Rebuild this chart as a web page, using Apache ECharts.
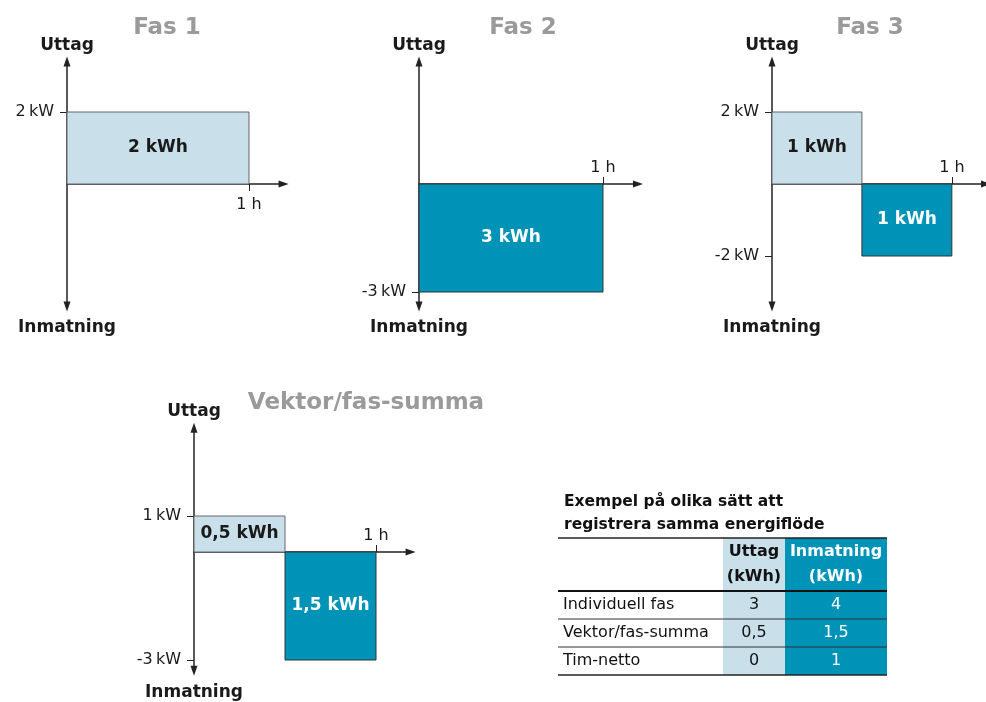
<!DOCTYPE html>
<html>
<head>
<meta charset="utf-8">
<title>Fas och vektorsumma</title>
<script src="https://cdn.jsdelivr.net/npm/echarts@6/dist/echarts.min.js"></script>
<style>
  html, body { margin: 0; padding: 0; background: #fff; }
  #chart { width: 986px; height: 702px; }
</style>
</head>
<body>
<div id="chart"></div>
<script>
// panels: three phases + vector sum
const panelTitles = ['Fas 1', 'Fas 2', 'Fas 3', 'Vektor/fas-summa']
// blocks per panel: start hour, end hour, power (kW), energy label
const blockStart = [[0], [0], [0, 0.5], [0, 0.5]]
const blockEnd = [[1], [1], [0.5, 1], [0.5, 1]]
const blockPower = [[2], [-3], [2, -2], [1, -3]]
const blockEnergy = [['2 kWh'], ['3 kWh'], ['1 kWh', '1 kWh'], ['0,5 kWh', '1,5 kWh']]
const powerTicks = [[2], [-3], [2, -2], [1, -3]]
const hourTicks = [1]

// table
const tableTitle = ['Exempel på olika sätt att', 'registrera samma energiflöde']
const tableHeaders = [['Uttag', '(kWh)'], ['Inmatning', '(kWh)']]
const tableRows = ['Individuell fas', 'Vektor/fas-summa', 'Tim-netto']
const uttagValues = ['3', '0,5', '0']
const inmatningValues = ['4', '1,5', '1']

const LIGHT = '#c9e0eb'
const DARK = '#0093b8'
const INK = '#1a1a1a'
const FONT = '"DejaVu Sans", sans-serif'
const PX_KW = 36

// layout of each panel (pixel position of the origin, px per hour)
const layout = [
  { x0: 67, y0: 184, pxH: 182, below: true, yMin: -3.4, yMax: 3.4, tx: 167, ty: 28 },
  { x0: 419, y0: 184, pxH: 184, below: false, yMin: -3.4, yMax: 3.4, tx: 523, ty: 28 },
  { x0: 772, y0: 184, pxH: 181, below: false, yMin: -3.4, yMax: 3.4, tx: 870, ty: 28 },
  { x0: 194, y0: 552, pxH: 182, below: false, yMin: -3.3, yMax: 3.45, tx: 366, ty: 403 },
]
const X_MAX = 1.19

const chart = echarts.init(document.getElementById('chart'))

const grid = [], xAxis = [], yAxis = [], series = [], graphic = []
const axisColor = '#222'

layout.forEach((L, i) => {
  grid.push({
    left: L.x0,
    top: L.y0 - L.yMax * PX_KW,
    width: L.pxH * X_MAX,
    height: (L.yMax - L.yMin) * PX_KW,
  })
  // time axis, shifted up from the grid bottom to the zero line
  xAxis.push({
    gridIndex: i,
    type: 'value',
    min: 0,
    max: X_MAX,
    position: 'bottom',
    offset: L.yMin * PX_KW,
    axisLine: {
      onZero: false,
      symbol: ['none', 'triangle'],
      symbolSize: [7, 10],
      lineStyle: { color: axisColor, width: 1.5 },
    },
    axisTick: { customValues: hourTicks, inside: !L.below, length: 7, lineStyle: { color: axisColor } },
    axisLabel: {
      customValues: hourTicks,
      inside: !L.below,
      margin: L.below ? 13 : 8,
      formatter: (v) => v + ' h',
      color: INK,
      fontSize: 16,
      fontFamily: FONT,
    },
    splitLine: { show: false },
  })
  // main power axis
  yAxis.push({
    gridIndex: i,
    type: 'value',
    min: L.yMin,
    max: L.yMax,
    position: 'left',
    axisLine: {
      onZero: false,
      symbol: ['triangle', 'triangle'],
      symbolSize: [7, 10],
      lineStyle: { color: axisColor, width: 1.5 },
    },
    axisTick: { customValues: powerTicks[i], length: 7, lineStyle: { color: axisColor } },
    axisLabel: {
      customValues: powerTicks[i],
      formatter: (v) => v + '\u2009kW',
      margin: 13,
      color: INK,
      fontSize: 16,
      fontFamily: FONT,
    },
    splitLine: { show: false },
    name: 'Uttag',
    nameLocation: 'end',
    nameGap: 8,
    nameTextStyle: { color: INK, fontSize: 17, fontWeight: 'bold', fontFamily: FONT },
  })
  // name-only axis for the bottom label
  yAxis.push({
    gridIndex: i,
    type: 'value',
    min: L.yMin,
    max: L.yMax,
    position: 'left',
    axisLine: { show: false },
    axisTick: { show: false },
    axisLabel: { show: false },
    splitLine: { show: false },
    name: 'Inmatning',
    nameLocation: 'start',
    nameGap: 13,
    nameTextStyle: { color: INK, fontSize: 17, fontWeight: 'bold', fontFamily: FONT },
  })

  const data = blockPower[i].map((p, k) => [blockStart[i][k], blockEnd[i][k], p])
  series.push({
    type: 'custom',
    xAxisIndex: i,
    yAxisIndex: i * 2,
    data,
    renderItem: (params, api) => {
      const p = api.value(2)
      const a = api.coord([api.value(0), p])
      const b = api.coord([api.value(1), 0])
      const neg = p < 0
      const x = a[0], w = b[0] - a[0]
      const y = Math.min(a[1], b[1]), h = Math.abs(b[1] - a[1])
      return {
        type: 'group',
        children: [
          {
            type: 'rect',
            shape: { x, y, width: w, height: h },
            style: { fill: neg ? DARK : LIGHT, stroke: neg ? '#333' : '#666', lineWidth: 1 },
          },
          {
            type: 'text',
            x: x + w / 2,
            y: y + h / 2,
            style: {
              text: blockEnergy[i][params.dataIndex],
              fill: neg ? '#fff' : INK,
              font: 'bold 17px ' + FONT,
              align: 'center',
              verticalAlign: 'middle',
            },
          },
        ],
      }
    },
  })

  graphic.push({
    type: 'text',
    x: L.tx,
    y: L.ty,
    style: {
      text: panelTitles[i],
      fill: '#9a9a9a',
      font: 'bold 23px ' + FONT,
      align: 'center',
      verticalAlign: 'middle',
    },
  })
})

// table, drawn as graphic elements
const T = { left: 558, right: 887, top: 538, head: 591, rowH: 28, c1: 723, c2: 785 }
const tBottom = T.head + tableRows.length * T.rowH
tableTitle.forEach((t, k) => {
  graphic.push({
    type: 'text', x: 564, y: 502 + k * 23,
    style: { text: t, fill: '#111', font: 'bold 15.5px ' + FONT, align: 'left', verticalAlign: 'middle' },
  })
})
graphic.push(
  { type: 'rect', shape: { x: T.c1, y: T.top, width: T.c2 - T.c1, height: tBottom - T.top }, style: { fill: LIGHT } },
  { type: 'rect', shape: { x: T.c2, y: T.top, width: T.right - T.c2, height: tBottom - T.top }, style: { fill: DARK } }
)
const colCenters = [(T.c1 + T.c2) / 2, (T.c2 + T.right) / 2]
tableHeaders.forEach((lines, c) => {
  lines.forEach((t, k) => {
    graphic.push({
      type: 'text', x: colCenters[c], y: 552 + k * 25,
      style: { text: t, fill: c === 0 ? '#111' : '#fff', font: 'bold 16px ' + FONT, align: 'center', verticalAlign: 'middle' },
    })
  })
})
const hline = (y, w, color) => ({
  type: 'line',
  shape: { x1: T.left, y1: y, x2: T.right, y2: y },
  style: { stroke: color, lineWidth: w },
  z: 10,
})
graphic.push(hline(T.top, 1.5, '#222'), hline(T.head, 2, '#111'))
tableRows.forEach((r, k) => {
  const cy = T.head + k * T.rowH + T.rowH / 2
  graphic.push(
    { type: 'text', x: 563, y: cy, style: { text: r, fill: '#111', font: '16px ' + FONT, align: 'left', verticalAlign: 'middle' } },
    { type: 'text', x: colCenters[0], y: cy, style: { text: uttagValues[k], fill: '#111', font: '16px ' + FONT, align: 'center', verticalAlign: 'middle' } },
    { type: 'text', x: colCenters[1], y: cy, style: { text: inmatningValues[k], fill: '#fff', font: '16px ' + FONT, align: 'center', verticalAlign: 'middle' } }
  )
  const ly = T.head + (k + 1) * T.rowH
  graphic.push(k === tableRows.length - 1 ? hline(ly, 1.5, '#222') : hline(ly, 1, '#333'))
})

chart.setOption({
  backgroundColor: '#fff',
  animation: false,
  grid,
  xAxis,
  yAxis,
  series,
  graphic,
})
</script>
</body>
</html>
